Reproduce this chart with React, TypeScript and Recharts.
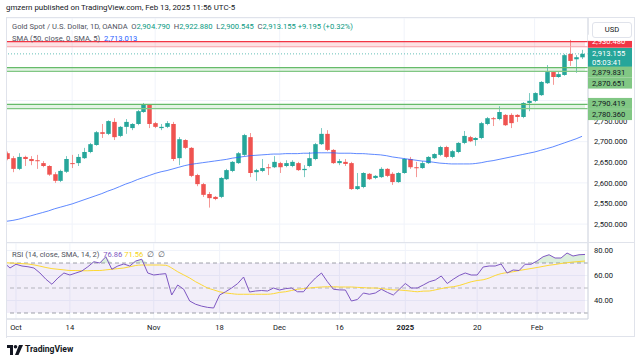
import React from "react";
import {
  Area,
  Bar,
  CartesianGrid,
  ComposedChart,
  Line,
  ReferenceArea,
  ReferenceLine,
  XAxis,
  YAxis
} from "recharts";

// daily bars, OANDA gold spot
const dates = [
  "2024-09-27", "2024-09-30", "2024-10-01", "2024-10-02", "2024-10-03", "2024-10-04", "2024-10-07", "2024-10-08",
  "2024-10-09", "2024-10-10", "2024-10-11", "2024-10-14", "2024-10-15", "2024-10-16", "2024-10-17", "2024-10-18",
  "2024-10-21", "2024-10-22", "2024-10-23", "2024-10-24", "2024-10-25", "2024-10-28", "2024-10-29", "2024-10-30",
  "2024-10-31", "2024-11-01", "2024-11-04", "2024-11-05", "2024-11-06", "2024-11-07", "2024-11-08", "2024-11-11",
  "2024-11-12", "2024-11-13", "2024-11-14", "2024-11-15", "2024-11-18", "2024-11-19", "2024-11-20", "2024-11-21",
  "2024-11-22", "2024-11-25", "2024-11-26", "2024-11-27", "2024-11-28", "2024-11-29", "2024-12-02", "2024-12-03",
  "2024-12-04", "2024-12-05", "2024-12-06", "2024-12-09", "2024-12-10", "2024-12-11", "2024-12-12", "2024-12-13",
  "2024-12-16", "2024-12-17", "2024-12-18", "2024-12-19", "2024-12-20", "2024-12-23", "2024-12-24", "2024-12-26",
  "2024-12-27", "2024-12-30", "2024-12-31", "2025-01-02", "2025-01-03", "2025-01-06", "2025-01-07", "2025-01-08",
  "2025-01-09", "2025-01-10", "2025-01-13", "2025-01-14", "2025-01-15", "2025-01-16", "2025-01-17", "2025-01-20",
  "2025-01-21", "2025-01-22", "2025-01-23", "2025-01-24", "2025-01-27", "2025-01-28", "2025-01-29", "2025-01-30",
  "2025-01-31", "2025-02-03", "2025-02-04", "2025-02-05", "2025-02-06", "2025-02-07", "2025-02-10", "2025-02-11",
  "2025-02-12", "2025-02-13"
];

const opens = [
  2672, 2660, 2634, 2663, 2658, 2655, 2648, 2641, 2621, 2605, 2627, 2648, 2648, 2660, 2675, 2692, 2723, 2719, 2748, 2714,
  2736, 2733, 2743, 2772, 2789, 2745, 2733, 2736, 2743, 2660, 2704, 2685, 2619, 2597, 2573, 2566, 2566, 2609, 2629, 2648,
  2668, 2711, 2626, 2629, 2638, 2638, 2648, 2641, 2641, 2648, 2631, 2641, 2658, 2694, 2719, 2680, 2648, 2651, 2648, 2585,
  2590, 2622, 2612, 2614, 2634, 2622, 2602, 2624, 2658, 2638, 2636, 2648, 2660, 2668, 2687, 2663, 2675, 2697, 2711, 2704,
  2709, 2743, 2757, 2755, 2765, 2765, 2765, 2760, 2794, 2799, 2813, 2842, 2869, 2857, 2862, 2913, 2900, 2904.79
];
const highs = [
  2676, 2665, 2672, 2666, 2665, 2668, 2653, 2643, 2626, 2632, 2665, 2668, 2670, 2685, 2697, 2726, 2743, 2752, 2757, 2738,
  2755, 2745, 2777, 2794, 2791, 2748, 2743, 2750, 2748, 2711, 2706, 2687, 2622, 2600, 2578, 2568, 2614, 2634, 2653, 2675,
  2719, 2721, 2634, 2658, 2646, 2665, 2651, 2655, 2655, 2651, 2643, 2675, 2697, 2733, 2728, 2682, 2658, 2658, 2651, 2624,
  2626, 2624, 2619, 2638, 2636, 2626, 2626, 2660, 2663, 2651, 2653, 2665, 2672, 2690, 2690, 2680, 2699, 2726, 2714, 2711,
  2748, 2760, 2760, 2786, 2767, 2769, 2767, 2796, 2818, 2820, 2847, 2886, 2871, 2869, 2913, 2947, 2910, 2922.88
];
const lows = [
  2655, 2626, 2631, 2641, 2643, 2634, 2638, 2617, 2600, 2602, 2624, 2636, 2641, 2658, 2672, 2690, 2709, 2716, 2704, 2711,
  2719, 2728, 2740, 2770, 2733, 2733, 2728, 2733, 2653, 2643, 2682, 2614, 2592, 2566, 2540, 2558, 2563, 2607, 2626, 2646,
  2665, 2614, 2605, 2626, 2619, 2636, 2624, 2638, 2638, 2629, 2614, 2638, 2655, 2692, 2677, 2646, 2643, 2641, 2583, 2583,
  2587, 2607, 2609, 2612, 2614, 2595, 2600, 2622, 2634, 2614, 2634, 2646, 2658, 2665, 2660, 2660, 2672, 2694, 2699, 2690,
  2706, 2740, 2738, 2752, 2738, 2733, 2748, 2757, 2774, 2796, 2811, 2840, 2838, 2855, 2860, 2884, 2867, 2900.545
];
const closes = [
  2658, 2634, 2663, 2658, 2653, 2653, 2641, 2620, 2605, 2629, 2658, 2646, 2663, 2675, 2694, 2723, 2719, 2750, 2711, 2736,
  2748, 2743, 2774, 2791, 2743, 2736, 2736, 2745, 2658, 2706, 2685, 2617, 2597, 2571, 2563, 2561, 2612, 2631, 2651, 2672,
  2716, 2624, 2631, 2636, 2636, 2651, 2638, 2648, 2651, 2631, 2634, 2660, 2694, 2719, 2680, 2648, 2653, 2646, 2585, 2592,
  2624, 2609, 2617, 2634, 2617, 2602, 2624, 2658, 2638, 2636, 2648, 2663, 2670, 2687, 2663, 2677, 2697, 2714, 2701, 2709,
  2745, 2757, 2755, 2772, 2740, 2745, 2760, 2794, 2799, 2818, 2845, 2869, 2857, 2864, 2910, 2896, 2905, 2913.155
];

const sma50 = [
  2507, 2509, 2512, 2516, 2520, 2524, 2528, 2532, 2537, 2541, 2545, 2549, 2554, 2559, 2564, 2569, 2574, 2580, 2585, 2591,
  2597, 2602, 2608, 2613, 2618, 2623, 2627, 2630, 2634, 2638, 2642, 2645, 2647, 2649, 2651, 2653, 2655, 2657, 2660, 2662,
  2664, 2666, 2667, 2668, 2669, 2670, 2670, 2671, 2671, 2671, 2672, 2672, 2673, 2673, 2673, 2673, 2672, 2672, 2672, 2671,
  2671, 2670, 2669, 2668, 2666, 2663, 2661, 2659, 2657, 2655, 2653, 2652, 2650, 2648, 2647, 2646, 2646, 2646, 2646, 2647,
  2649, 2652, 2654, 2657, 2660, 2663, 2666, 2669, 2672, 2675, 2679, 2683, 2687, 2692, 2697, 2702, 2707, 2713.013
];

const rsi14 = [
  70.3, 66, 69, 67.6, 67, 66, 62, 57, 53, 58, 62, 60.4, 62, 63.6, 67, 71, 70, 75, 65, 67.6,
  69.2, 67.6, 71.6, 73, 62, 60.4, 61, 61.5, 44.4, 52.4, 49, 39.6, 37, 35.5, 34.5, 34, 44.4, 47, 50, 53.5,
  58.8, 46.8, 47.6, 48, 47.6, 50, 48.4, 49.5, 50, 47, 47, 53, 58, 62, 55, 49, 48.5, 48.4, 39.6, 40.8,
  46, 45, 46, 49, 46.5, 44.4, 49, 53.6, 50, 50, 52.4, 55, 56.4, 59.6, 53.6, 57, 60, 62, 60.4, 60.4,
  66.8, 67.6, 67.6, 69.2, 62, 64.4, 64, 69, 69, 71.6, 75, 76.6, 74, 74, 78, 75.6, 76.6, 76.86
];
const rsiSma = [
  70.3, 70, 69.8, 69.5, 69.2, 68.5, 67.5, 66.4, 65.5, 65, 64.5, 64, 64, 63.8, 63.8, 64, 64, 64.5, 65, 65.5,
  66, 67, 68, 68.4, 68.4, 68.4, 68.4, 68.2, 66, 63, 60.5, 58, 55, 52.5, 50, 48.5, 47, 46, 45.5, 45,
  45, 45, 45, 45, 45, 45.5, 46.5, 47, 48, 49, 49.5, 50, 50.5, 50.8, 51, 51, 50.8, 50.8, 50.8, 50.5,
  50.3, 50, 50, 49.5, 49, 48.5, 48.4, 48, 47.5, 47, 47.5, 47.6, 48.5, 49.5, 50.5, 51, 52, 53.5, 55, 56,
  56.6, 58, 60, 61.5, 62.3, 63, 64, 64.8, 65.6, 66.4, 67.3, 68.2, 68.8, 69.6, 70.2, 70.8, 71.2, 71.56
];

const tickDates = ["2024-10-01", "2024-10-14", "2024-11-01", "2024-11-18", "2024-12-02", "2024-12-16", "2025-01-02", "2025-01-20", "2025-02-03"];
const tickNames = ["Oct", "14", "Nov", "18", "Dec", "16", "2025", "20", "Feb"];
const priceTicks = [2500, 2550, 2600, 2650, 2700, 2750, 2800];
const rsiTicks = [40, 60, 80];
const resistanceZone = [2930.48, 2942.7];
const upperSupport = [2870.651, 2879.831];
const lowerSupport = [2780.36, 2790.419];
const lastPrice = 2913.155;

const UP = "#26a69a";
const DOWN = "#ef5350";
const FONT = "Roboto, 'Noto Sans', sans-serif";
const PRICE_DOMAIN = [2454.1, 3000.2];

const rows = dates.map((date, i) => ({
  date,
  open: opens[i],
  high: highs[i],
  low: lows[i],
  close: closes[i],
  range: [lows[i], highs[i]],
  sma: sma50[i],
  rsi: rsi14[i],
  rsiSma: rsiSma[i],
  overbought: [70, Math.max(70, rsi14[i])]
}));

const fmtPrice = (v: number) =>
  v.toLocaleString("en-US", { minimumFractionDigits: 3, maximumFractionDigits: 3 });

function Candle(props: any) {
  const { x, y, width, height, payload } = props;
  if (!payload) return null;
  const { open, close, high, low } = payload;
  const h = Math.abs(height);
  const top = height < 0 ? y + height : y;
  const k = high === low ? 0 : h / (high - low);
  const cx = Math.round(x + width / 2) + 0.5;
  const color = close >= open ? UP : DOWN;
  const bodyTop = top + (high - Math.max(open, close)) * k;
  const bodyH = Math.max(1, Math.abs(open - close) * k);
  return (
    <g>
      <line x1={cx} x2={cx} y1={top} y2={top + h} stroke={color} strokeOpacity={0.6} />
      <rect x={cx - 2.25} y={bodyTop} width={4.5} height={bodyH} fill={color} />
    </g>
  );
}

// price tag in the right scale, stacked like TradingView does
function PriceTag(props: any) {
  const { viewBox, text, sub, bg, color, dy = 0, boxH = 11, clipTop = false } = props;
  if (!viewBox) return null;
  const left = viewBox.x + viewBox.width;
  const cy = viewBox.y + dy;
  const top = cy - boxH / 2;
  if (clipTop) {
    return (
      <g>
        <rect x={left} y={top} width={44} height={boxH} fill={bg} />
        <text x={left + 4} y={top + 1} dy="0.36em" fontSize={7.6} fontFamily={FONT} fill={color}>
          {text}
        </text>
        <rect x={left} y={top - 6} width={47} height={6} fill="#fff" />
      </g>
    );
  }
  const lines = sub ? [text, sub] : [text];
  return (
    <g>
      <rect x={left} y={top} width={44} height={boxH} fill={bg} />
      {lines.map((t: string, i: number) => (
        <text
          key={t}
          x={left + 4}
          y={top + (sub ? 5 + i * 9 : boxH / 2)}
          dy="0.36em"
          fontSize={7.6}
          fontFamily={FONT}
          fill={color}
        >
          {t}
        </text>
      ))}
    </g>
  );
}

function TimeTick(props: any) {
  const { x, y, payload } = props;
  const name = tickNames[tickDates.indexOf(payload.value)] ?? "";
  return (
    <text
      x={x}
      y={y}
      dy="0.71em"
      textAnchor="middle"
      fontSize={7.6}
      fontFamily={FONT}
      fontWeight={name === "2025" ? 700 : 400}
      fill="#131722"
    >
      {name}
    </text>
  );
}

const axisTick = { fontSize: 7.6, fill: "#131722", fontFamily: FONT };

function PricePane() {
  return (
    <ComposedChart width={643} height={225} data={rows} margin={{ top: 0, right: 8, bottom: 0, left: 4 }}>
      <CartesianGrid stroke="#f0f3fa" />
      <XAxis dataKey="date" hide ticks={tickDates} padding={{ left: 0, right: 3 }} />
      <YAxis
        orientation="right"
        width={47}
        domain={PRICE_DOMAIN}
        allowDataOverflow
        ticks={priceTicks}
        tickFormatter={fmtPrice}
        tick={axisTick}
        tickLine={false}
        tickSize={4}
        tickMargin={2}
        axisLine={{ stroke: "#d1d4dc" }}
      />
      <ReferenceArea y1={resistanceZone[0]} y2={resistanceZone[1]} fill="#f23645" fillOpacity={0.15} stroke="none" />
      <ReferenceArea y1={upperSupport[0]} y2={upperSupport[1]} fill="#4caf50" fillOpacity={0.15} stroke="none" />
      <ReferenceArea y1={lowerSupport[0]} y2={lowerSupport[1]} fill="#4caf50" fillOpacity={0.15} stroke="none" />
      <ReferenceLine y={resistanceZone[1]} stroke="#f23645" strokeWidth={1.2} />
      <ReferenceLine y={resistanceZone[0]} stroke="#f7a1a8" strokeWidth={1.2} />
      <ReferenceLine y={upperSupport[1]} stroke="#66bb6a" strokeWidth={1.2} />
      <ReferenceLine y={upperSupport[0]} stroke="#81c784" strokeWidth={1.2} />
      <ReferenceLine y={lowerSupport[1]} stroke="#66bb6a" strokeWidth={1.2} />
      <ReferenceLine y={lowerSupport[0]} stroke="#81c784" strokeWidth={1.2} />
      <Line dataKey="sma" stroke="#2962ff" strokeOpacity={0.75} strokeWidth={1} dot={false} type="monotone" isAnimationActive={false} />
      <Bar dataKey="range" shape={(p: any) => <Candle {...p} />} isAnimationActive={false} />
      <ReferenceLine y={lastPrice} stroke={UP} strokeDasharray="1 2" strokeOpacity={0.7} />
    </ComposedChart>
  );
}

// transparent layer on top of the price pane so the tags hide the scale labels
function TagPane() {
  return (
    <ComposedChart width={643} height={225} data={rows} margin={{ top: 0, right: 55, bottom: 0, left: 4 }}>
      <XAxis dataKey="date" hide padding={{ left: 0, right: 3 }} />
      <YAxis hide domain={PRICE_DOMAIN} allowDataOverflow />
      <ReferenceLine
        y={resistanceZone[0]}
        stroke="none"
        label={<PriceTag text={fmtPrice(resistanceZone[0])} bg="#f23645" color="#fff" dy={-2.5} boxH={7} clipTop />}
      />
      <ReferenceLine
        y={lastPrice}
        stroke="none"
        label={<PriceTag text={fmtPrice(lastPrice)} sub="05:03:41" bg={UP} color="#fff" dy={3.6} boxH={19} />}
      />
      <ReferenceLine y={upperSupport[1]} stroke="none" label={<PriceTag text={fmtPrice(upperSupport[1])} bg="#81c784" color="#131722" dy={4.5} />} />
      <ReferenceLine y={upperSupport[0]} stroke="none" label={<PriceTag text={fmtPrice(upperSupport[0])} bg="#81c784" color="#131722" dy={11.7} />} />
      <ReferenceLine y={lowerSupport[1]} stroke="none" label={<PriceTag text={fmtPrice(lowerSupport[1])} bg="#81c784" color="#131722" dy={-1} />} />
      <ReferenceLine y={lowerSupport[0]} stroke="none" label={<PriceTag text={fmtPrice(lowerSupport[0])} bg="#81c784" color="#131722" dy={6} />} />
    </ComposedChart>
  );
}

function RsiPane() {
  return (
    <ComposedChart width={643} height={98} data={rows} margin={{ top: 0, right: 8, bottom: 0, left: 4 }}>
      <CartesianGrid stroke="#f0f3fa" />
      <XAxis
        dataKey="date"
        ticks={tickDates}
        tick={<TimeTick />}
        interval={0}
        height={22}
        tickLine={false}
        tickSize={4}
        tickMargin={2}
        padding={{ left: 0, right: 3 }}
        axisLine={{ stroke: "#d1d4dc" }}
      />
      <YAxis
        orientation="right"
        width={47}
        domain={[25.2, 86]}
        allowDataOverflow
        ticks={rsiTicks}
        tickFormatter={(v: number) => v.toFixed(2)}
        tick={axisTick}
        tickLine={false}
        tickSize={4}
        tickMargin={2}
        axisLine={{ stroke: "#d1d4dc" }}
      />
      <ReferenceArea y1={30} y2={70} fill="#7e57c2" fillOpacity={0.1} stroke="none" />
      <ReferenceLine y={70} stroke="#787b86" strokeDasharray="4 3" strokeOpacity={0.7} />
      <ReferenceLine y={50} stroke="#787b86" strokeDasharray="4 3" strokeOpacity={0.5} />
      <ReferenceLine y={30} stroke="#787b86" strokeDasharray="4 3" strokeOpacity={0.7} />
      <Area dataKey="overbought" fill="#4caf50" fillOpacity={0.2} stroke="none" type="linear" isAnimationActive={false} />
      <Line dataKey="rsiSma" stroke="#fdd835" strokeWidth={1} dot={false} type="monotone" isAnimationActive={false} />
      <Line dataKey="rsi" stroke="#7e57c2" strokeWidth={1} dot={false} type="linear" isAnimationActive={false} />
    </ComposedChart>
  );
}

const small: React.CSSProperties = { fontFamily: FONT, fontSize: 7.6, whiteSpace: "nowrap", position: "absolute" };

export default function App() {
  return (
    <div style={{ position: "absolute", left: 0, top: 0, width: 643, height: 361, background: "#fff", overflow: "hidden" }}>
      <div style={{ ...small, left: 6, top: 3, fontSize: 7.9, color: "#131722" }}>
        gmzern published on TradingView.com, Feb 13, 2025 11:56 UTC-5
      </div>

      <div style={{ position: "absolute", left: 0, top: 18 }}>
        <PricePane />
      </div>
      <div style={{ position: "absolute", left: 0, top: 18, pointerEvents: "none" }}>
        <TagPane />
      </div>
      <div style={{ position: "absolute", left: 0, top: 243 }}>
        <RsiPane />
      </div>

      {/* frame */}
      <div style={{ position: "absolute", left: 0, top: 18, width: 6, height: 320, background: "#fff", borderRight: "1px solid #e0e3eb" }} />
      <div style={{ position: "absolute", left: 6, top: 17, width: 629, height: 320, border: "1px solid #e0e3eb", boxSizing: "border-box" }} />
      <div style={{ position: "absolute", left: 6, top: 242, width: 629, height: 1, background: "#e0e3eb" }} />
      <div style={{ position: "absolute", left: 635, top: 17, width: 8, height: 330, background: "#fff" }} />

      <div style={{ ...small, left: 592, top: 22, width: 38, height: 14, border: "1px solid #e0e3eb", borderRadius: 3, background: "#fff", textAlign: "center", lineHeight: "14px", color: "#131722" }}>
        USD
      </div>

      <div style={{ ...small, left: 12, top: 22, color: "#50535e" }}>
        Gold Spot / U.S. Dollar, 1D, OANDA&nbsp; O<span style={{ color: "#089981" }}>2,904.790</span>&nbsp; H
        <span style={{ color: "#089981" }}>2,922.880</span>&nbsp; L<span style={{ color: "#089981" }}>2,900.545</span>&nbsp; C
        <span style={{ color: "#089981" }}>2,913.155 +9.195 (+0.32%)</span>
      </div>
      <div style={{ ...small, left: 12, top: 34, color: "#50535e" }}>
        SMA (50, close, 0, SMA, 5)&nbsp; <span style={{ color: "#2962ff" }}>2,713.013</span>
      </div>
      <div style={{ ...small, left: 12, top: 250, color: "#50535e" }}>
        RSI (14, close, SMA, 14, 2)&nbsp; <span style={{ color: "#7e57c2" }}>76.86</span>&nbsp;
        <span style={{ color: "#f5d312" }}>71.56</span>&nbsp; ∅ &nbsp;∅
      </div>

      <svg style={{ position: "absolute", left: 7, top: 345 }} width={16} height={10} viewBox="0 0 16 10">
        <path d="M0 0h6v10H3V3H0z" fill="#131722" />
        <circle cx={8.5} cy={1.8} r={1.8} fill="#131722" />
        <path d="M12 0h4l-4.5 10H8z" fill="#131722" />
      </svg>
      <div style={{ ...small, left: 25, top: 344, fontSize: 8.6, fontWeight: 700, color: "#131722" }}>TradingView</div>
    </div>
  );
}
